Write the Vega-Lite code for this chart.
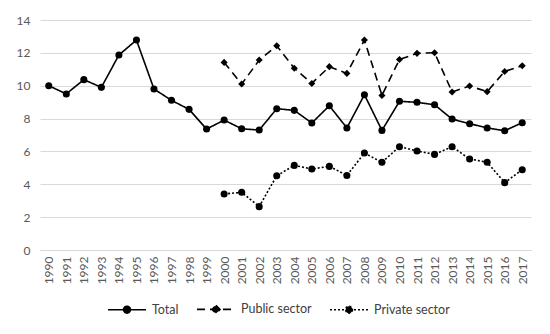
{
  "$schema": "https://vega.github.io/schema/vega-lite/v6.json",
  "autosize": "none",
  "width": 491,
  "height": 230,
  "padding": {"left": 40, "top": 20, "right": 19, "bottom": 84},
  "background": "white",
  "config": {
    "view": {"stroke": null},
    "font": "Lato",
    "axis": {"labelFont": "Lato", "labelColor": "#595959", "labelFontSize": 12, "gridColor": "#d9d9d9", "gridWidth": 1, "ticks": false, "domain": false, "title": null}
  },
  "data": {"values": [
    {"year":"1990","series":"Total","value":10.0},
    {"year":"1991","series":"Total","value":9.5},
    {"year":"1992","series":"Total","value":10.37},
    {"year":"1993","series":"Total","value":9.9},
    {"year":"1994","series":"Total","value":11.87},
    {"year":"1995","series":"Total","value":12.78},
    {"year":"1996","series":"Total","value":9.8},
    {"year":"1997","series":"Total","value":9.11},
    {"year":"1998","series":"Total","value":8.56},
    {"year":"1999","series":"Total","value":7.36},
    {"year":"2000","series":"Total","value":7.91},
    {"year":"2001","series":"Total","value":7.38},
    {"year":"2002","series":"Total","value":7.3},
    {"year":"2003","series":"Total","value":8.6},
    {"year":"2004","series":"Total","value":8.5},
    {"year":"2005","series":"Total","value":7.73},
    {"year":"2006","series":"Total","value":8.78},
    {"year":"2007","series":"Total","value":7.43},
    {"year":"2008","series":"Total","value":9.45},
    {"year":"2009","series":"Total","value":7.28},
    {"year":"2010","series":"Total","value":9.05},
    {"year":"2011","series":"Total","value":8.99},
    {"year":"2012","series":"Total","value":8.84},
    {"year":"2013","series":"Total","value":7.97},
    {"year":"2014","series":"Total","value":7.69},
    {"year":"2015","series":"Total","value":7.43},
    {"year":"2016","series":"Total","value":7.26},
    {"year":"2017","series":"Total","value":7.75},
    {"year":"2000","series":"Public sector","value":11.42},
    {"year":"2001","series":"Public sector","value":10.1},
    {"year":"2002","series":"Public sector","value":11.56},
    {"year":"2003","series":"Public sector","value":12.43},
    {"year":"2004","series":"Public sector","value":11.06},
    {"year":"2005","series":"Public sector","value":10.14},
    {"year":"2006","series":"Public sector","value":11.16},
    {"year":"2007","series":"Public sector","value":10.75},
    {"year":"2008","series":"Public sector","value":12.78},
    {"year":"2009","series":"Public sector","value":9.41},
    {"year":"2010","series":"Public sector","value":11.6},
    {"year":"2011","series":"Public sector","value":11.97},
    {"year":"2012","series":"Public sector","value":12.01},
    {"year":"2013","series":"Public sector","value":9.62},
    {"year":"2014","series":"Public sector","value":9.98},
    {"year":"2015","series":"Public sector","value":9.64},
    {"year":"2016","series":"Public sector","value":10.87},
    {"year":"2017","series":"Public sector","value":11.22},
    {"year":"2000","series":"Private sector","value":3.41},
    {"year":"2001","series":"Private sector","value":3.51},
    {"year":"2002","series":"Private sector","value":2.64},
    {"year":"2003","series":"Private sector","value":4.52},
    {"year":"2004","series":"Private sector","value":5.15},
    {"year":"2005","series":"Private sector","value":4.93},
    {"year":"2006","series":"Private sector","value":5.09},
    {"year":"2007","series":"Private sector","value":4.54},
    {"year":"2008","series":"Private sector","value":5.9},
    {"year":"2009","series":"Private sector","value":5.34},
    {"year":"2010","series":"Private sector","value":6.29},
    {"year":"2011","series":"Private sector","value":6.03},
    {"year":"2012","series":"Private sector","value":5.82},
    {"year":"2013","series":"Private sector","value":6.29},
    {"year":"2014","series":"Private sector","value":5.54},
    {"year":"2015","series":"Private sector","value":5.34},
    {"year":"2016","series":"Private sector","value":4.1},
    {"year":"2017","series":"Private sector","value":4.89}
  ]},
  "encoding": {
    "x": {"field": "year", "type": "ordinal", "scale": {"type": "point", "padding": 0.5},
      "axis": {"labelAngle": -90, "labelPadding": 6, "grid": false, "domain": true, "domainColor": "#d9d9d9"}},
    "y": {"field": "value", "type": "quantitative", "scale": {"domain": [0, 14], "nice": false},
      "axis": {"values": [0,2,4,6,8,10,12,14], "labelPadding": 10, "grid": true}}
  },
  "layer": [
    {
      "mark": {"type": "line", "color": "black", "strokeWidth": 1.6},
      "encoding": {
        "strokeDash": {"field": "series", "type": "nominal",
          "scale": {"domain": ["Total", "Public sector", "Private sector"], "range": [[1,0],[8,5],[2,2]]},
          "legend": {
            "title": null, "orient": "none", "direction": "horizontal",
            "legendX": 67, "legendY": 269,
            "symbolType": "M-1,0L1,0M0.18,0A0.18,0.18,0,1,1,-0.18,0A0.18,0.18,0,1,1,0.18,0Z",
            "symbolSize": 1444, "symbolStrokeWidth": 1.6, "symbolStrokeColor": "black", "symbolFillColor": "black",
            "labelFont": "Lato", "labelFontSize": 12.5, "labelColor": "#404040", "labelOffset": 5, "columnPadding": 14,
            "encode": {"symbols": {"update": {
              "shape": {"signal": "datum.value === 'Public sector' ? 'M-1,0L1,0M0,-0.21L0.21,0L0,0.21L-0.21,0Z' : 'M-1,0L1,0M0.18,0A0.18,0.18,0,1,1,-0.18,0A0.18,0.18,0,1,1,0.18,0Z'"},
              "fill": {"value": "black"}, "stroke": {"value": "black"}, "opacity": {"value": 1}
            }}}
          }
        }
      }
    },
    {
      "transform": [{"filter": "datum.series !== 'Public sector'"}],
      "mark": {"type": "point", "filled": true, "color": "black", "opacity": 1, "size": 50, "shape": "circle"}
    },
    {
      "transform": [{"filter": "datum.series === 'Public sector'"}],
      "mark": {"type": "point", "filled": true, "color": "black", "opacity": 1, "size": 50, "shape": "diamond"}
    }
  ]
}
